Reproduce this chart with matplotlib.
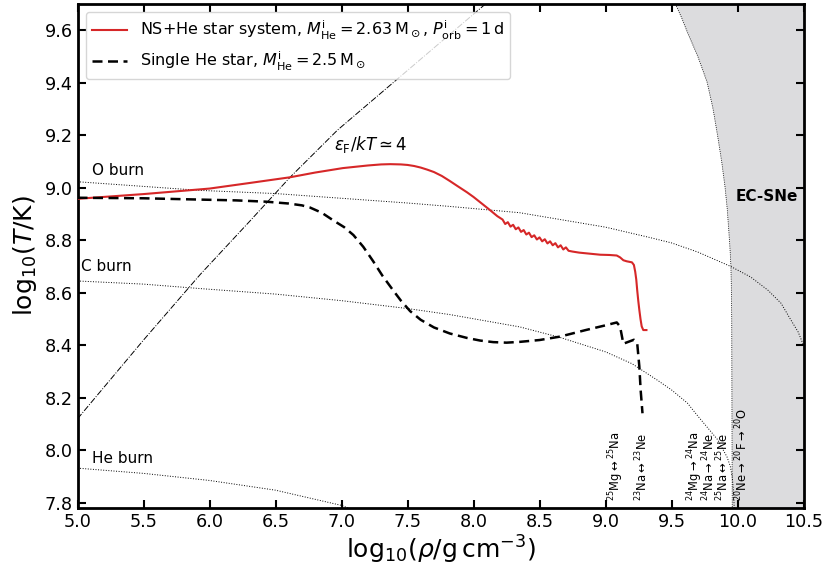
import matplotlib
matplotlib.use("Agg")
import matplotlib.pyplot as plt

# ---- data ----
rho_ns = [5.0, 5.5, 6.0, 6.3, 6.61, 6.8, 7.01, 7.2, 7.3, 7.37, 7.45, 7.5, 7.55, 7.6, 7.65, 7.7, 7.76,
          7.82, 7.88, 7.95, 8.0, 8.05, 8.12, 8.18,
          8.22, 8.24, 8.26, 8.28, 8.30, 8.32, 8.34, 8.36, 8.38, 8.40, 8.42, 8.44, 8.46, 8.48, 8.50,
          8.52, 8.54, 8.56, 8.58, 8.60, 8.62, 8.64, 8.66, 8.68, 8.70, 8.72,
          8.75, 8.80, 8.88, 8.96, 9.03, 9.085, 9.11, 9.135, 9.16, 9.20, 9.215, 9.225, 9.233, 9.24,
          9.248, 9.256, 9.265, 9.274, 9.286, 9.31]
T_ns = [8.958, 8.976, 8.997, 9.018, 9.04, 9.058, 9.075, 9.085, 9.089, 9.09, 9.089, 9.087, 9.083, 9.077, 9.069, 9.06, 9.045,
        9.026, 9.006, 8.983, 8.965, 8.945, 8.917, 8.892,
        8.879, 8.862, 8.869, 8.852, 8.859, 8.842, 8.849, 8.832, 8.839, 8.822, 8.829, 8.812, 8.819, 8.803, 8.811,
        8.796, 8.804, 8.788, 8.796, 8.781, 8.789, 8.773, 8.781, 8.765, 8.773, 8.760,
        8.757, 8.753, 8.749, 8.745, 8.744, 8.742, 8.735, 8.724, 8.72, 8.716, 8.706, 8.68, 8.65, 8.61,
        8.57, 8.535, 8.50, 8.472, 8.458, 8.458]

rho_single = [5.0, 5.5, 5.93, 6.2, 6.43, 6.6, 6.7, 6.76, 6.85, 6.94, 7.02, 7.09, 7.165, 7.24, 7.31, 7.39,
              7.45, 7.52, 7.6, 7.70, 7.82, 7.95, 8.05, 8.15, 8.25, 8.35, 8.5, 8.655, 8.85, 9.0, 9.085,
              9.11, 9.135, 9.215, 9.24, 9.256, 9.266, 9.28]
T_single = [8.962, 8.96, 8.955, 8.952, 8.947, 8.94, 8.933, 8.925, 8.905, 8.875, 8.85, 8.82, 8.775, 8.72, 8.665, 8.61,
            8.57, 8.53, 8.497, 8.468, 8.445, 8.428, 8.418, 8.412, 8.41, 8.413, 8.42, 8.433, 8.458, 8.476, 8.487,
            8.472, 8.406, 8.421, 8.408, 8.32, 8.23, 8.141]

rho_O = [5.0, 5.93, 6.5, 7.0, 7.5, 7.82, 8.35, 9.0, 9.34, 9.5, 9.7, 9.95, 10.1, 10.23, 10.33, 10.4, 10.46, 10.5]
T_O = [9.023, 8.99, 8.978, 8.96, 8.942, 8.929, 8.905, 8.85, 8.81, 8.79, 8.755, 8.70, 8.66, 8.61, 8.56, 8.50, 8.45, 8.40]

rho_C = [5.0, 5.5, 5.93, 6.5, 7.0, 7.5, 7.82, 8.35, 8.655, 9.0, 9.2, 9.39, 9.5, 9.62, 9.70, 9.755, 9.80,
         9.85, 9.92, 9.945, 9.96, 9.97, 9.975]
T_C = [8.645, 8.633, 8.616, 8.595, 8.57, 8.54, 8.517, 8.47, 8.43, 8.375, 8.33, 8.268, 8.23, 8.18, 8.13, 8.097, 8.07,
       8.04, 7.975, 7.94, 7.898, 7.84, 7.78]

rho_He = [5.0, 5.5, 6.0, 6.5, 7.0, 7.05]
T_He = [7.932, 7.912, 7.885, 7.848, 7.79, 7.78]

rho_deg = [5.0, 5.5, 5.93, 6.3, 6.61, 6.97, 7.46, 8.09]
T_deg = [8.12, 8.42, 8.67, 8.87, 9.04, 9.22, 9.43, 9.70]

rho_ec = [9.53, 9.575, 9.62, 9.70, 9.77, 9.815, 9.85, 9.88, 9.905, 9.922, 9.935, 9.944, 9.95, 9.953, 9.956, 9.96]
T_ec = [9.70, 9.65, 9.593, 9.50, 9.402, 9.30, 9.196, 9.10, 9.005, 8.92, 8.829, 8.76, 8.70, 8.63, 8.50, 7.78]

reaction_labels = [r"$^{25}$Mg$\leftrightarrow$$^{25}$Na",
                   r"$^{23}$Na$\leftrightarrow$$^{23}$Ne",
                   r"$^{24}$Mg$\rightarrow$$^{24}$Na",
                   r"$^{24}$Na$\rightarrow$$^{24}$Ne",
                   r"$^{25}$Na$\leftrightarrow$$^{25}$Ne",
                   r"$^{20}$Ne$\rightarrow$$^{20}$F$\rightarrow$$^{20}$O"]
reaction_rho = [9.08, 9.28, 9.68, 9.785, 9.89, 10.035]

xticks = [5.0, 5.5, 6.0, 6.5, 7.0, 7.5, 8.0, 8.5, 9.0, 9.5, 10.0, 10.5]
yticks = [7.8, 8.0, 8.2, 8.4, 8.6, 8.8, 9.0, 9.2, 9.4, 9.6]

# ---- figure ----
fig = plt.figure(figsize=(8.3, 5.76), dpi=100)
ax = fig.add_axes([0.0934, 0.118, 0.8747, 0.875])

ax.fill_betweenx(T_ec, rho_ec, 10.5, color='#dcdcde', zorder=0)
ax.plot(rho_ec, T_ec, color='k', ls=':', lw=0.6, zorder=1)

ax.plot(rho_O, T_O, color='k', ls=':', lw=0.7)
ax.plot(rho_C, T_C, color='k', ls=':', lw=0.7)
ax.plot(rho_He, T_He, color='k', ls=':', lw=0.7)
ax.plot(rho_deg, T_deg, color='k', ls='-.', lw=0.7)

ax.plot(rho_ns, T_ns, color='#d62728', lw=1.5, zorder=3,
        label=r"NS+He star system, $M_{\rm He}^{\rm i} = 2.63\,{\rm M}_\odot$, $P_{\rm orb}^{\rm i} = 1\,{\rm d}$")
ax.plot(rho_single, T_single, color='k', ls=(0, (4, 2.2)), lw=1.8, zorder=3,
        label=r"Single He star, $M_{\rm He}^{\rm i} = 2.5\,{\rm M}_\odot$")

ax.text(5.11, 9.066, "O burn", fontsize=11, va='center', ha='left')
ax.text(5.03, 8.70, "C burn", fontsize=11, va='center', ha='left')
ax.text(5.11, 7.97, "He burn", fontsize=11, va='center', ha='left')
ax.text(6.94, 9.165, r"$\varepsilon_{\rm F}/kT \simeq 4$", fontsize=12, va='center', ha='left')
ax.text(10.22, 8.965, "EC-SNe", fontsize=11, fontweight='bold', va='center', ha='center')

for lab, r in zip(reaction_labels, reaction_rho):
    ax.text(r, 7.805, lab, rotation=90, fontsize=8.3, ha='center', va='bottom')

ax.set_xlim(5.0, 10.5)
ax.set_ylim(7.78, 9.70)
ax.set_xticks(xticks)
ax.set_yticks(yticks)
ax.set_xticklabels([f"{v:.1f}" for v in xticks])
ax.set_yticklabels([f"{v:.1f}" for v in yticks])
ax.tick_params(direction='in', length=6, width=1.5, top=True, right=True, labelsize=12.7)
for s in ax.spines.values():
    s.set_linewidth(2)

ax.set_xlabel(r"${\rm log}_{10}(\rho/{\rm g\,cm^{-3}})$", fontsize=18, labelpad=2)
ax.set_ylabel(r"${\rm log}_{10}(T/{\rm K})$", fontsize=18, labelpad=4)

ax.legend(loc='upper left', fontsize=11.5, handlelength=2.2, borderaxespad=0.5)

fig.savefig("out.png", dpi=100)
